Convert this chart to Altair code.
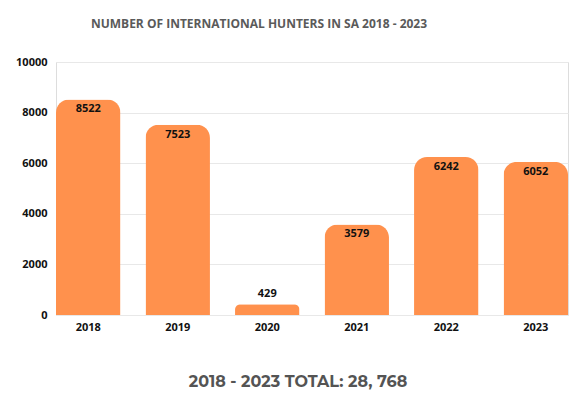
import altair as alt
import pandas as pd

years = ["2018", "2019", "2020", "2021", "2022", "2023"]
hunters = [8522, 7523, 429, 3579, 6242, 6052]
title_text = "NUMBER OF INTERNATIONAL HUNTERS IN SA 2018 - 2023"
total_text = "2018 - 2023 TOTAL: 28, 768"

df = pd.DataFrame({"year": years, "hunters": hunters})

FONT = "Open Sans"

x = alt.X("year:N", sort=years, title=None,
          scale=alt.Scale(paddingInner=0.28, paddingOuter=0),
          axis=alt.Axis(labelAngle=0, domain=False, ticks=False, labelFont=FONT,
                        labelFontWeight="bold", labelFontSize=11, labelColor="#111",
                        labelPadding=6))
y = alt.Y("hunters:Q", title=None,
          scale=alt.Scale(domain=[0, 10000]),
          axis=alt.Axis(values=[0, 2000, 4000, 6000, 8000, 10000], format="d",
                        domain=False, ticks=False,
                        labelFont=FONT, labelFontWeight="bold", labelFontSize=11,
                        labelColor="#111", labelPadding=9, gridColor="#e8e8e8"))

bars = alt.Chart(df).mark_bar(color="#FF914D", cornerRadiusTopLeft=13,
                              cornerRadiusTopRight=13).encode(x=x, y=y)

labels_in = alt.Chart(df).transform_filter("datum.hunters >= 1000").mark_text(
    baseline="top", dy=4, font=FONT, fontWeight="bold", fontSize=11, color="#111").encode(
    x=alt.X("year:N", sort=years), y="hunters:Q", text="hunters:Q")

labels_out = alt.Chart(df).transform_filter("datum.hunters < 1000").mark_text(
    baseline="bottom", dy=-5, font=FONT, fontWeight="bold", fontSize=11, color="#111").encode(
    x=alt.X("year:N", sort=years), y="hunters:Q", text="hunters:Q")

title = alt.Chart(alt.Data(values=[{}])).mark_text(
    font=FONT, fontWeight="bold", fontSize=12, color="#5a5a5a", baseline="middle",
    align="center").encode(x=alt.value(203), y=alt.value(-38), text=alt.value(title_text))

total = alt.Chart(alt.Data(values=[{}])).mark_text(
    font="Montserrat, Open Sans", fontWeight="bold", fontSize=16, color="#545454",
    baseline="middle", align="center").encode(
    x=alt.value(242), y=alt.value(320), text=alt.value(total_text))

chart = alt.layer(bars, labels_in, labels_out, title, total).properties(
    width=512, height=253,
    autosize=alt.AutoSizeParams(type="none"),
    padding={"left": 48, "top": 54, "right": 4, "bottom": 76},
).configure_view(stroke=None).configure(background="white")

chart.save("out.html", embed_options={"renderer": "svg", "actions": False})
